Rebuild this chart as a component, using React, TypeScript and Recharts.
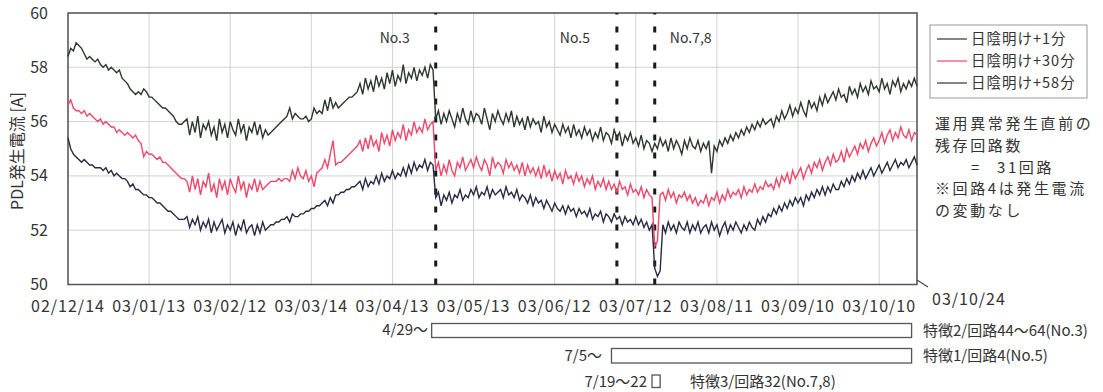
import React from 'react';
import { LineChart, Line, XAxis, YAxis, CartesianGrid, ReferenceLine, ReferenceArea } from 'recharts';

// Day index 0 = 2002-12-14, last = 2003-10-24 (314 days)
const tickDays = [0, 30, 60, 90, 120, 150, 180, 210, 240, 270, 300, 314];
const tickLabels = ['02/12/14', '03/01/13', '03/02/12', '03/03/14', '03/04/13', '03/05/13', '03/06/12', '03/07/12', '03/08/11', '03/09/10', '03/10/10', '03/10/24'];
const yTicks = [50, 52, 54, 56, 58, 60];

// 日陰明け+1分 (top)
const plus1 = [
  58.4, 58.7, 58.6, 58.9, 58.8, 58.7, 58.5, 58.3, 58.4, 58.3,
  58.2, 58.3, 58.1, 58.0, 58.1, 57.9, 58.0, 57.9, 57.8, 57.9,
  57.6, 57.5, 57.4, 57.2, 57.1, 57.0, 57.1, 57.0, 57.2, 57.1,
  56.9, 56.9, 56.8, 56.7, 56.6, 56.5, 56.5, 56.4, 56.3, 56.2,
  56.0, 55.9, 55.9, 56.0, 56.1, 55.5, 56.0, 55.6, 56.2, 55.4,
  55.9, 55.7, 56.0, 55.5, 55.8, 55.3, 56.1, 55.6, 55.9, 55.4,
  56.0, 55.7, 55.5, 56.1, 55.6, 55.9, 55.3, 55.8, 55.6, 56.0,
  55.5, 55.9, 55.4, 55.7, 55.5, 55.6, 55.7, 55.8, 55.9, 56.0,
  56.1, 56.2, 56.5, 56.1, 56.3, 56.2, 56.1, 56.1, 56.2, 56.0,
  56.1, 56.5, 56.3, 56.4, 56.3, 56.8, 56.4, 56.9, 56.5, 56.7,
  56.5, 56.6, 56.7, 56.8, 56.9, 56.9, 57.0, 57.1, 57.4, 57.0,
  57.6, 57.2, 57.5, 57.1, 57.7, 57.3, 57.6, 57.2, 57.8, 57.4,
  57.9, 57.3, 57.7, 57.5, 58.1, 57.4, 57.8, 57.6, 58.0, 57.5,
  57.9, 57.7, 58.0, 57.6, 58.1, 57.9, 56.1, 56.4, 55.9, 56.3,
  56.0, 56.4, 56.1, 55.8, 56.3, 56.0, 56.5, 56.1, 55.9, 56.4,
  56.0, 56.3, 56.2, 55.9, 56.5, 56.1, 55.7, 56.3, 56.0, 56.4,
  56.1, 55.9, 56.3, 56.0, 56.4, 55.8, 56.2, 55.9, 56.1, 55.7,
  56.2, 55.8, 56.1, 55.9, 56.0, 55.6, 56.2, 55.8, 56.0, 55.6,
  55.9, 55.7, 55.5, 55.9, 55.6, 55.8, 55.4, 55.9, 55.5, 55.7,
  55.4, 55.8, 55.5, 55.7, 55.3, 55.6, 55.4, 55.8, 55.3, 55.6,
  55.5, 55.2, 55.7, 55.4, 55.6, 55.1, 55.5, 55.3, 55.6, 55.2,
  55.4, 55.1, 55.5, 55.0, 55.3, 55.2, 54.9, 55.2, 55.0, 55.4,
  55.1, 55.3, 54.9, 55.4, 55.0, 55.3, 55.1, 54.8, 55.3, 55.0,
  55.4, 55.1, 55.0, 55.3, 54.9, 55.2, 55.0, 55.3, 54.1, 55.1,
  54.9, 55.3, 55.1, 55.4, 55.2, 55.5, 55.3, 55.6, 55.4, 55.7,
  55.5, 55.8, 55.6, 55.9, 55.7, 56.0, 55.8, 56.1, 55.9, 56.0,
  56.1, 55.8, 56.2, 56.0, 56.4, 56.1, 56.3, 56.6, 56.2, 56.5,
  56.3, 56.7, 56.4, 56.2, 56.8, 56.5, 56.7, 56.4, 56.9, 56.6,
  57.0, 56.7, 56.9, 57.1, 56.8, 57.2, 56.9, 57.0, 56.7, 57.3,
  57.0, 57.2, 56.9, 57.4, 57.1, 57.3, 57.0, 57.5, 57.2, 57.3,
  57.1, 57.6, 57.2, 57.4, 57.0, 57.5, 57.3, 57.6, 57.1, 57.4,
  57.2, 57.5, 57.3, 57.6, 57.3,
];

// 日陰明け+30分 (pink)
const plus30 = [
  56.6, 56.8, 56.5, 56.4, 56.4, 56.3, 56.4, 56.2, 56.3, 56.2,
  56.1, 56.0, 56.1, 55.9, 56.0, 55.9, 55.8, 55.8, 55.6, 55.7,
  55.6, 55.5, 55.6, 55.5, 55.4, 55.5, 55.3, 55.2, 54.7, 54.9,
  54.8, 54.8, 54.7, 54.6, 54.7, 54.5, 54.5, 54.4, 54.3, 54.2,
  54.1, 54.0, 53.9, 53.9, 53.8, 53.4, 54.0, 53.5, 53.9, 53.3,
  53.8, 53.6, 54.1, 53.4, 53.7, 53.2, 53.9, 53.5, 53.8, 53.3,
  53.9, 53.6, 53.4, 54.0, 53.5, 53.8, 53.2, 53.7, 53.5, 53.9,
  53.4, 53.8, 53.5, 53.6, 53.7, 53.8, 53.8, 53.8, 53.9, 53.8,
  53.9, 53.9, 53.8, 54.2, 53.9, 54.3, 54.0, 53.9, 54.2, 53.8,
  54.0, 53.6, 54.1, 54.2, 54.3, 54.6, 54.3, 54.8, 55.3, 54.4,
  54.5, 54.5, 54.6, 54.7, 54.8, 54.9, 55.0, 55.1, 55.3, 54.9,
  55.4, 55.0, 55.5, 55.1, 55.3, 54.9, 55.6, 55.2, 55.5, 55.1,
  55.7, 55.3, 55.6, 55.4, 55.9, 55.3, 55.7, 55.5, 56.0, 55.6,
  55.8, 55.6, 56.1, 55.7, 55.9, 56.0, 54.2, 54.5, 54.0, 54.4,
  54.1, 54.6, 54.2, 54.0, 54.5, 54.3, 54.7, 54.2, 54.4, 54.6,
  54.3, 54.7, 54.4, 54.2, 54.6, 54.4, 54.0, 54.7, 54.3, 54.5,
  54.4, 54.1, 54.6, 54.3, 54.5, 54.2, 54.4, 54.1, 54.5, 54.0,
  54.4, 54.1, 54.3, 54.0, 54.3, 53.9, 54.4, 54.0, 54.2, 53.8,
  54.2, 53.9, 54.1, 53.7, 54.2, 53.9, 54.0, 53.7, 54.1, 53.8,
  54.0, 53.6, 53.9, 53.7, 54.0, 53.5, 53.8, 53.6, 53.9, 53.5,
  53.8, 53.5, 53.7, 53.4, 53.8, 53.5, 53.6, 53.3, 53.7, 53.4,
  53.5, 53.3, 53.6, 53.2, 53.5, 53.3, 53.2, 51.4, 51.6, 53.3,
  53.4, 53.1, 53.5, 53.2, 53.4, 53.0, 53.3, 53.2, 53.4, 53.1,
  53.3, 53.0, 53.2, 52.9, 53.1, 53.0, 53.3, 52.9, 53.2, 53.1,
  53.4, 53.0, 53.3, 53.1, 53.5, 53.2, 53.4, 53.3, 53.5, 53.2,
  53.6, 53.3, 53.5, 53.4, 53.7, 53.4, 53.6, 53.5, 53.8, 53.6,
  53.7, 53.5, 53.9, 53.6, 54.0, 53.8, 54.1, 53.7, 54.2, 53.9,
  54.1, 54.3, 53.9, 54.2, 54.4, 54.1, 54.5, 54.3, 54.6, 54.2,
  54.5, 54.7, 54.4, 54.8, 54.5, 54.6, 54.9, 54.5, 55.0, 54.7,
  54.9, 55.1, 54.8, 55.2, 55.0, 55.3, 54.9, 55.2, 55.4, 55.1,
  55.3, 55.6, 55.2, 55.5, 55.7, 55.3, 55.6, 55.4, 55.8, 55.5,
  55.4, 55.7, 55.3, 55.6, 55.5,
];

// 日陰明け+58分 (bottom)
const plus58 = [
  55.4, 55.0, 54.8, 54.7, 54.6, 54.5, 54.6, 54.5, 54.4, 54.4,
  54.3, 54.3, 54.3, 54.2, 54.3, 54.1, 54.2, 54.0, 54.1, 54.0,
  53.9, 53.9, 53.8, 53.6, 53.7, 53.5, 53.5, 53.4, 53.3, 53.3,
  53.2, 53.2, 53.1, 53.0, 53.0, 52.9, 52.8, 52.7, 52.7, 52.6,
  52.5, 52.4, 52.4, 52.4, 52.5, 52.1, 52.4, 52.2, 52.5, 52.0,
  52.3, 52.1, 52.4, 51.9, 52.3, 52.0, 52.2, 52.4, 51.9, 52.2,
  52.0, 52.3, 51.8, 52.2, 52.0, 52.4, 51.9, 52.1, 52.2, 51.8,
  52.2, 51.9, 52.3, 52.0, 52.1, 52.2, 52.2, 52.3, 52.3, 52.4,
  52.4, 52.5, 52.3, 52.6, 52.5, 52.5, 52.6, 52.6, 52.7, 52.7,
  52.8, 52.8, 52.9, 52.9, 53.0, 53.1, 52.9, 53.2, 53.0, 53.3,
  53.3, 53.4, 53.4, 53.5, 53.5, 53.6, 53.6, 53.7, 53.8, 53.5,
  53.9, 53.6, 53.8, 53.7, 54.0, 53.7, 54.1, 53.8, 54.0, 53.9,
  54.2, 53.9, 54.1, 54.0, 54.3, 54.0, 54.4, 54.1, 54.5, 54.2,
  54.4, 54.3, 54.6, 54.2, 54.5, 54.4, 53.2, 53.4, 52.9, 53.3,
  53.1, 53.4, 53.0, 53.3, 53.2, 53.5, 53.1, 53.3, 53.2, 53.5,
  53.3, 53.6, 53.2, 53.4, 53.3, 53.6, 53.2, 53.5, 53.3, 53.4,
  53.5, 53.2, 53.6, 53.3, 53.4, 53.2, 53.5, 53.1, 53.3, 53.2,
  53.0, 53.3, 52.9, 53.2, 53.0, 53.1, 52.8, 53.1, 52.9, 52.7,
  53.0, 52.8, 52.7, 52.9, 52.6, 52.9, 52.7, 52.8, 52.5, 52.8,
  52.6, 52.7, 52.5, 52.8, 52.4, 52.6, 52.5, 52.7, 52.3, 52.6,
  52.5, 52.3, 52.6, 52.4, 52.5, 52.2, 52.5, 52.3, 52.4, 52.2,
  52.5, 52.2, 52.4, 52.1, 52.3, 52.0, 52.2, 50.6, 50.3, 50.5,
  52.2, 51.9, 52.3, 52.0, 52.2, 51.9, 52.3, 52.1, 52.0, 52.3,
  51.9, 52.2, 52.0, 52.3, 51.9, 52.1, 52.2, 51.9, 52.3, 52.0,
  52.2, 51.8, 52.1, 52.3, 51.9, 52.2, 52.0, 52.3, 52.1, 51.9,
  52.2, 52.0, 52.3, 52.1, 52.0, 52.4, 52.2, 52.5, 52.3, 52.6,
  52.5, 52.8, 52.6, 52.9, 52.7, 53.0, 52.8, 53.1, 52.9, 53.2,
  53.0, 53.2, 52.9, 53.3, 53.1, 53.4, 53.2, 53.5, 53.3, 53.6,
  53.3, 53.6, 53.4, 53.7, 53.5, 53.5, 53.8, 53.6, 53.9, 53.7,
  54.0, 53.8, 54.1, 53.9, 54.2, 53.9, 54.1, 54.3, 54.0, 54.2,
  54.4, 54.1, 54.3, 54.5, 54.2, 54.4, 54.6, 54.3, 54.5, 54.4,
  54.6, 54.3, 54.5, 54.7, 54.4,
];

const seriesNames = ['日陰明け+1分', '日陰明け+30分', '日陰明け+58分'];

// Event markers (day index) and their labels
const eventDays = [136, 203, 217];
const eventLabels = ['No.3', 'No.5', 'No.7,8'];

// Feature periods (day index start/end) shown below the axis
const featureStart = [134.5, 201, 216];
const featureEnd = [312, 312, 219];
const featureFrom = ['4/29～', '7/5～', '7/19～22'];
const featureText = ['特徴2/回路44～64(No.3)', '特徴1/回路4(No.5)', '特徴3/回路32(No.7,8)'];

const noteLines = ['運用異常発生直前の', '残存回路数', '=', '※回路4は発生電流', 'の変動なし'];
const noteCount = '31回路';

const data = plus1.map((v, i) => ({ d: i, t: v, p: plus30[i], b: plus58[i] }));

const FONT = '"Noto Sans CJK JP", "Noto Sans", sans-serif';
const TXT = '#333';
const COLORS = ['#2c382e', '#ef4769', '#2b2a45'];
const LEGEND_COLORS = ['#333', '#ef4769', '#333'];

// layout styles (pixels)
const BOX_TOP = [323.5, 348.5, 375];
const BOX_H = [14, 14.5, 12.5];
const EVENT_LABEL_DX = [-41, -42, 36];
const NOTE_Y0 = 129;
const NOTE_PITCH = 21.8;
const LEG_Y0 = 39;
const LEG_PITCH = 22;

const XTick = (props: any) => {
  const { x, y, payload } = props;
  const idx = tickDays.indexOf(payload.value);
  const label = tickLabels[idx];
  if (idx === tickDays.length - 1) {
    return (
      <g>
        <line x1={x} y1={y - 4.5} x2={x + 11} y2={y + 2.5} stroke="#444" strokeWidth={1.2} />
        <text x={x + 15} y={y + 20} fontSize={16} fill={TXT} fontFamily={FONT} letterSpacing={1} textAnchor="start">{label}</text>
      </g>
    );
  }
  return (
    <text x={x} y={y + 27} fontSize={16} fill={TXT} fontFamily={FONT} letterSpacing={1} textAnchor="middle">{label}</text>
  );
};

const YTick = (props: any) => {
  const { x, y, payload } = props;
  return (
    <text x={x - 20} y={y + 5.5} fontSize={16} fill={TXT} fontFamily={FONT} textAnchor="end">{payload.value}</text>
  );
};

const featureShape = (i: number) => (props: any) => {
  const { x, width } = props;
  return <rect x={x} y={BOX_TOP[i]} width={width} height={BOX_H[i]} fill="#fff" stroke="#555" strokeWidth={1.3} />;
};

const eventLabel = (i: number) => (props: any) => {
  const vb = props.viewBox || {};
  return (
    <text x={vb.x + EVENT_LABEL_DX[i]} y={43} textAnchor="middle" fontSize={14} fill={TXT} fontFamily={FONT}>{eventLabels[i]}</text>
  );
};

export default function App() {
  return (
    <div style={{ position: 'absolute', left: 0, top: 0, width: 1103, height: 392, background: '#fff' }}>
      <LineChart width={1103} height={392} data={data} margin={{ top: 13, right: 186, bottom: 77.5, left: 0 }}>
        <CartesianGrid stroke="#d2d2d2" strokeWidth={1} />
        <XAxis
          dataKey="d"
          type="number"
          domain={[0, 314]}
          ticks={tickDays}
          interval={0}
          tick={<XTick />}
          tickLine={false}
          axisLine={false}
          tickSize={0}
          tickMargin={0}
          height={30}
        />
        <YAxis
          type="number"
          domain={[50, 60]}
          ticks={yTicks}
          interval={0}
          tick={<YTick />}
          tickLine={false}
          axisLine={false}
          tickSize={0}
          tickMargin={0}
          width={68}
        />
        <ReferenceArea x1={0} x2={314} y1={50} y2={60} fill="none" stroke="#555" strokeWidth={1.5} />
        {featureStart.map((s, i) => (
          <ReferenceArea key={'f' + i} x1={s} x2={featureEnd[i]} ifOverflow="visible" shape={featureShape(i)} />
        ))}
        {eventDays.map((d, i) => (
          <ReferenceLine key={'e' + i} x={d} stroke="#1a1a1a" strokeWidth={3} strokeDasharray="6 12" label={eventLabel(i)} />
        ))}
        <Line type="linear" dataKey="t" stroke={COLORS[0]} strokeWidth={1.4} dot={false} isAnimationActive={false} />
        <Line type="linear" dataKey="p" stroke={COLORS[1]} strokeWidth={1.4} dot={false} isAnimationActive={false} />
        <Line type="linear" dataKey="b" stroke={COLORS[2]} strokeWidth={1.4} dot={false} isAnimationActive={false} />
      </LineChart>
      <svg width={1103} height={392} style={{ position: 'absolute', left: 0, top: 0, pointerEvents: 'none' }} fontFamily={FONT}>
        <text transform="translate(16,151) rotate(-90)" textAnchor="middle" fontSize={16} fill={TXT} dominantBaseline="central">PDL発生電流 [A]</text>
        <rect x={930} y={25} width={157} height={73} fill="#fff" stroke="#999" strokeWidth={1} />
        {seriesNames.map((n, i) => (
          <line key={n} x1={937} x2={967} y1={LEG_Y0 + i * LEG_PITCH} y2={LEG_Y0 + i * LEG_PITCH} stroke={LEGEND_COLORS[i]} strokeWidth={1.2} />
        ))}
        <text fontSize={14.5} fill={TXT} letterSpacing={1}>
          {seriesNames.map((n, i) => (
            <tspan key={n} x={971} y={LEG_Y0 + i * LEG_PITCH + 5}>{n}</tspan>
          ))}
        </text>
        <text fontSize={15} fill={TXT} letterSpacing={2.6}>
          {noteLines.map((t, i) => (
            <tspan key={t} x={i === 2 ? 971 : 935} y={NOTE_Y0 + i * NOTE_PITCH}>{t}</tspan>
          ))}
          <tspan x={997} y={NOTE_Y0 + 2 * NOTE_PITCH}>{noteCount}</tspan>
        </text>
        <text x={428} y={335} textAnchor="end" fontSize={15} fill={TXT}>{featureFrom[0]}</text>
        <text x={602} y={361} textAnchor="end" fontSize={15} fill={TXT}>{featureFrom[1]}</text>
        <text x={647} y={387} textAnchor="end" fontSize={15} fill={TXT}>{featureFrom[2]}</text>
        <text x={923} y={336} fontSize={15} fill={TXT}>{featureText[0]}</text>
        <text x={923} y={361} fontSize={15} fill={TXT}>{featureText[1]}</text>
        <text x={690} y={387} fontSize={15} fill={TXT}>{featureText[2]}</text>
      </svg>
    </div>
  );
}
